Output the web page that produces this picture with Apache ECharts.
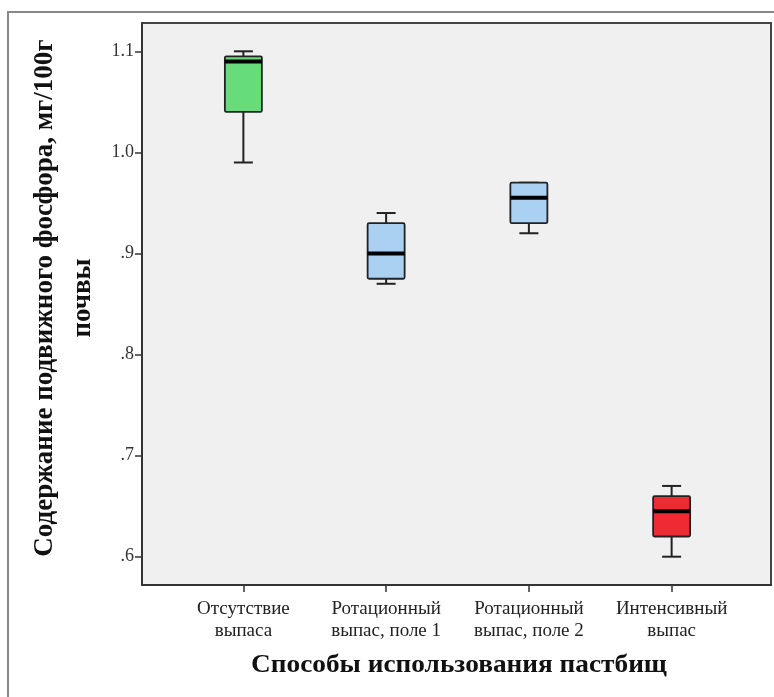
<!DOCTYPE html>
<html><head><meta charset="utf-8">
<script src="https://cdn.jsdelivr.net/npm/echarts@6/dist/echarts.min.js"></script>
<style>html,body{margin:0;padding:0;background:#fff}#c{width:774px;height:697px}</style>
</head><body><div id="c"></div>
<script>
const categories = ['Отсутствие\nвыпаса', 'Ротационный\nвыпас, поле 1', 'Ротационный\nвыпас, поле 2', 'Интенсивный\nвыпас'];
// [min, Q1, median, Q3, max]
const boxValues = [
  [0.990, 1.040, 1.090, 1.095, 1.100],
  [0.870, 0.875, 0.900, 0.930, 0.940],
  [0.920, 0.930, 0.955, 0.970, 0.970],
  [0.600, 0.620, 0.645, 0.660, 0.670]
];
const boxColors = ['#66dd7a', '#abd1f2', '#abd1f2', '#ee2a33'];
const yTicks = [0.6, 0.7, 0.8, 0.9, 1.0, 1.1];
const yTickLabels = ['.6', '.7', '.8', '.9', '1.0', '1.1'];
const yTitle = 'Содержание подвижного фосфора, мг/100г\nпочвы';
const xTitle = 'Способы использования пастбищ';

const Y_MIN = 0.572, Y_MAX = 1.128;
const FONT = 'Liberation Serif';

const chart = echarts.init(document.getElementById('c'), null, {renderer: 'canvas'});
chart.setOption({
  backgroundColor: '#fff',
  animation: false,
  grid: [
    {left: 142, top: 23, right: 3, bottom: 112, show: true, backgroundColor: '#f0f0f0', borderColor: '#444', borderWidth: 2},
    {left: 172, top: 23, right: 31, bottom: 112, show: false}
  ],
  xAxis: [
    {gridIndex: 0, type: 'value', min: 0, max: 1, show: true,
      axisLine: {show: true, onZero: false, lineStyle: {color: '#333', width: 2}},
      axisTick: {show: false}, axisLabel: {show: false}, splitLine: {show: false}},
    {gridIndex: 1, type: 'category', data: categories, boundaryGap: true,
      axisLine: {show: false},
      axisTick: {show: true, alignWithLabel: true, length: 7, lineStyle: {color: '#333', width: 1.5}},
      axisLabel: {fontFamily: FONT, fontSize: 19, color: '#222', margin: 13, lineHeight: 22, interval: 0},
      splitLine: {show: false}}
  ],
  yAxis: [
    {gridIndex: 0, type: 'value', min: Y_MIN, max: Y_MAX,
      axisLine: {show: true, lineStyle: {color: '#333', width: 2}},
      axisTick: {show: true, inside: false, length: 7, customValues: yTicks, lineStyle: {color: '#333', width: 1.5}},
      axisLabel: {customValues: yTicks, fontFamily: FONT, fontSize: 18, color: '#333', margin: 8,
        formatter: v => { const i = yTicks.findIndex(t => Math.abs(t - v) < 1e-6); return i >= 0 ? yTickLabels[i] : ''; }},
      splitLine: {show: false}},
    {gridIndex: 1, type: 'value', min: Y_MIN, max: Y_MAX, show: false}
  ],
  series: [{
    type: 'custom',
    xAxisIndex: 1, yAxisIndex: 1,
    data: boxValues.map((b, i) => [i].concat(b)),
    encode: {x: 0, y: [1, 2, 3, 4, 5]},
    renderItem: function (params, api) {
      const i = api.value(0);
      const x = api.coord([i, 0])[0];
      const yMin = api.coord([i, api.value(1)])[1];
      const yQ1 = api.coord([i, api.value(2)])[1];
      const yMed = api.coord([i, api.value(3)])[1];
      const yQ3 = api.coord([i, api.value(4)])[1];
      const yMax = api.coord([i, api.value(5)])[1];
      const hw = 18.5, cw = 9.5;
      const ls = {stroke: '#222', lineWidth: 2};
      return {type: 'group', children: [
        {type: 'line', shape: {x1: x, y1: yMax, x2: x, y2: yQ3}, style: ls},
        {type: 'line', shape: {x1: x, y1: yQ1, x2: x, y2: yMin}, style: ls},
        {type: 'line', shape: {x1: x - cw, y1: yMax, x2: x + cw, y2: yMax}, style: ls},
        {type: 'line', shape: {x1: x - cw, y1: yMin, x2: x + cw, y2: yMin}, style: ls},
        {type: 'rect', shape: {x: x - hw, y: yQ3, width: hw * 2, height: yQ1 - yQ3, r: 1.5},
          style: {fill: boxColors[i], stroke: '#222', lineWidth: 1.8}},
        {type: 'line', shape: {x1: x - hw, y1: yMed, x2: x + hw, y2: yMed}, style: {stroke: '#000', lineWidth: 4}}
      ]};
    }
  }],
  graphic: [
    {type: 'polyline', shape: {points: [[8, 697], [8, 12], [774, 12]]}, style: {stroke: '#888', lineWidth: 2, fill: null}},
    {type: 'text', x: 64, y: 298, rotation: Math.PI / 2,
      style: {text: yTitle, font: 'bold 27px "Liberation Serif"', fill: '#111', align: 'center', verticalAlign: 'middle', lineHeight: 38}},
    {type: 'text', x: 459, y: 665, scaleX: 1.05,
      style: {text: xTitle, font: 'bold 26px "Liberation Serif"', fill: '#111', align: 'center', verticalAlign: 'middle'}}
  ]
});
</script>
</body></html>
